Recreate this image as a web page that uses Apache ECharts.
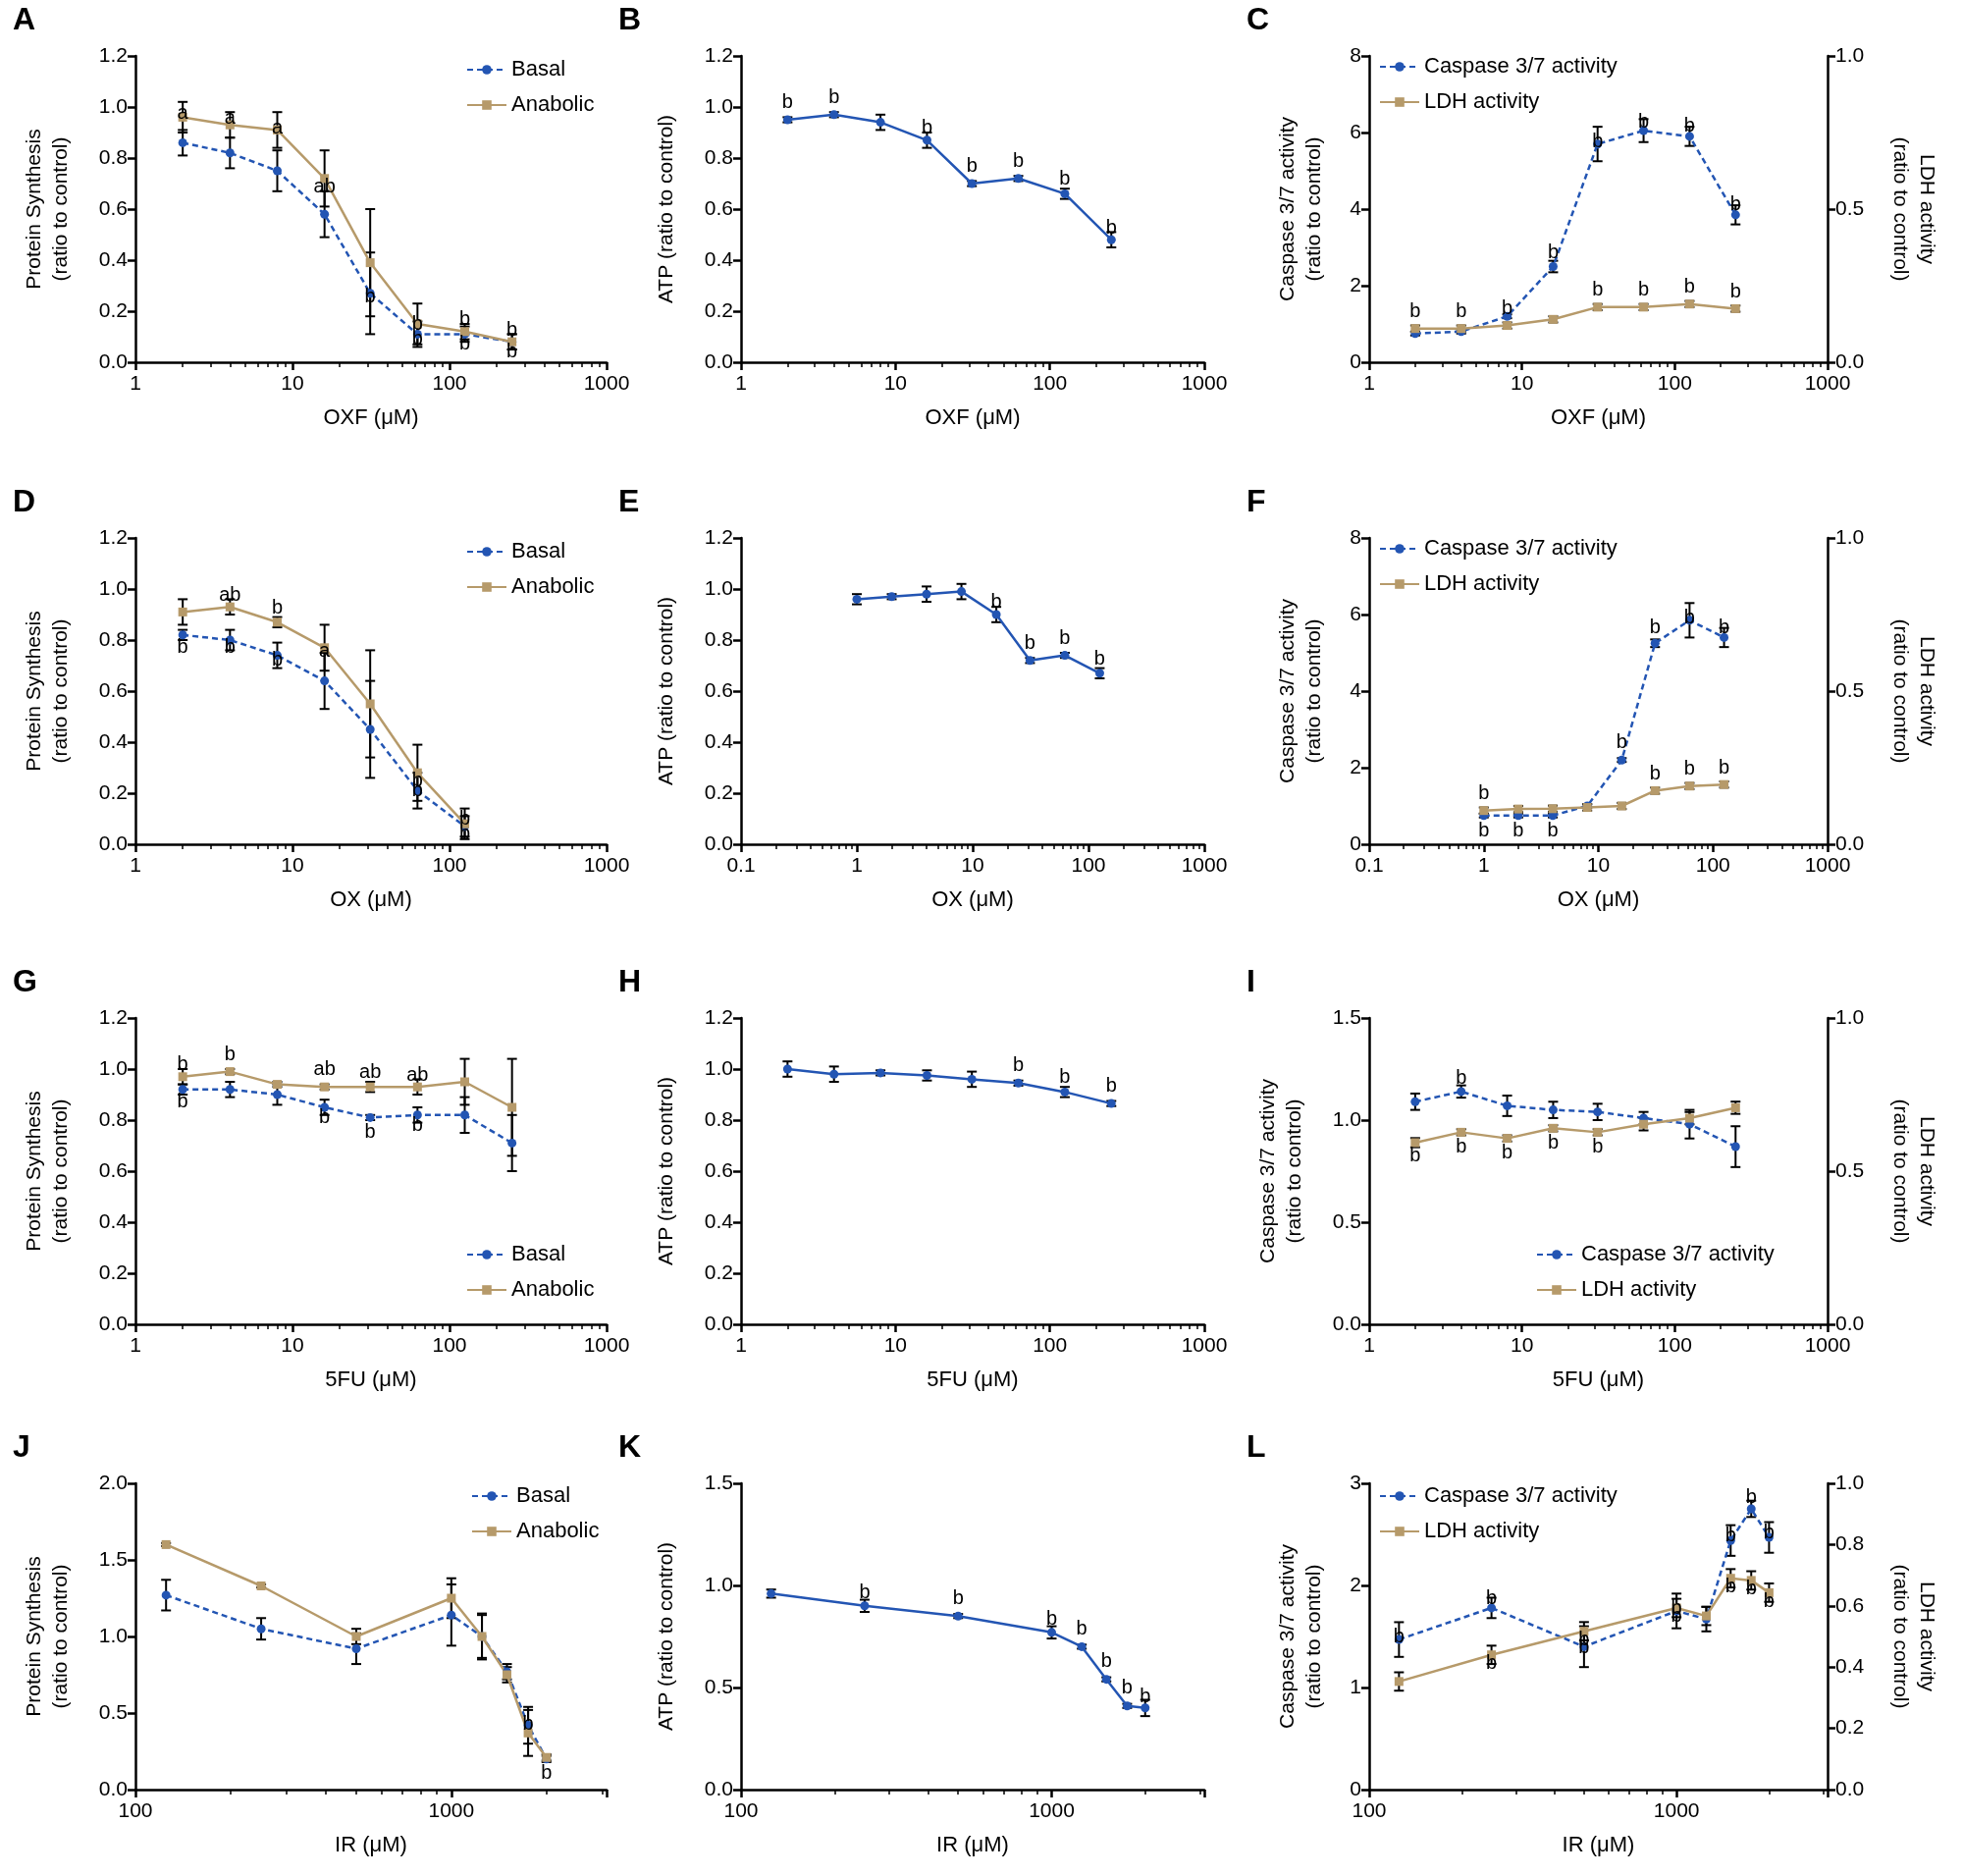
<!DOCTYPE html>
<html><head><meta charset="utf-8">
<script src="https://cdn.jsdelivr.net/npm/echarts@6/dist/echarts.min.js"></script>
<style>html,body{margin:0;background:#fff}#main{width:2000px;height:1911px}</style>
</head><body><div id="main"></div>
<script>
var BLUE = '#2355b3', TAN = '#b69a6a';
// concentrations
var xOXF = [2, 4, 8, 16, 31.25, 62.5, 125, 250];
var xOX = [2, 4, 8, 16, 31.25, 62.5, 125];
var xOX2 = [1, 2, 4, 8, 16, 31.25, 62.5, 125];
var x5FU = [2, 4, 8, 16, 31.25, 62.5, 125, 250];
var xIR = [125, 250, 500, 1000, 1250, 1500, 1750, 2000];
// A
var basalA = [0.86, 0.82, 0.75, 0.58, 0.27, 0.11, 0.11, 0.08], basalAErr = [0.05, 0.06, 0.08, 0.09, 0.16, 0.05, 0.03, 0.03];
var anabA = [0.96, 0.93, 0.91, 0.72, 0.39, 0.15, 0.12, 0.08], anabAErr = [0.06, 0.05, 0.07, 0.11, 0.21, 0.08, 0.03, 0.03];
var labAtop = ['a', 'a', 'a', 'ab', 'b', 'b', 'b', 'b'], labAbot = ['', '', '', '', '', 'b', 'b', 'b'];
// B
var atpB = [0.95, 0.97, 0.94, 0.87, 0.70, 0.72, 0.66, 0.48], atpBErr = [0.01, 0.01, 0.03, 0.03, 0.01, 0.01, 0.02, 0.03];
var labB = ['b', 'b', '', 'b', 'b', 'b', 'b', 'b'];
// C
var caspC = [0.75, 0.8, 1.2, 2.5, 5.7, 6.05, 5.9, 3.85], caspCErr = [0.05, 0.05, 0.05, 0.15, 0.45, 0.3, 0.25, 0.25];
var ldhC = [0.11, 0.11, 0.12, 0.14, 0.18, 0.18, 0.19, 0.175], ldhCErr = [0.01, 0.01, 0.01, 0.01, 0.01, 0.01, 0.01, 0.01];
var labCtop = ['', '', '', 'b', 'b', 'b', 'b', 'b'], labCldh = ['b', 'b', 'b', '', 'b', 'b', 'b', 'b'];
// D
var basalD = [0.82, 0.80, 0.74, 0.64, 0.45, 0.21, 0.07], basalDErr = [0.02, 0.04, 0.05, 0.11, 0.19, 0.07, 0.04];
var anabD = [0.91, 0.93, 0.87, 0.77, 0.55, 0.28, 0.08], anabDErr = [0.05, 0.03, 0.02, 0.09, 0.21, 0.11, 0.06];
var labDtop = ['', 'ab', 'b', 'a', '', 'b', 'b'], labDbot = ['b', 'b', 'b', '', '', 'b', 'b'];
// E
var atpE = [0.96, 0.97, 0.98, 0.99, 0.90, 0.72, 0.74, 0.67], atpEErr = [0.02, 0.01, 0.03, 0.03, 0.03, 0.01, 0.01, 0.02];
var labE = ['', '', '', '', 'b', 'b', 'b', 'b'];
// F
var caspF = [0.75, 0.75, 0.75, 1.0, 2.2, 5.25, 5.85, 5.4], caspFErr = [0.05, 0.05, 0.05, 0.05, 0.05, 0.1, 0.45, 0.25];
var ldhF = [0.11, 0.115, 0.116, 0.12, 0.125, 0.175, 0.19, 0.195], ldhFErr = [0.01, 0.01, 0.01, 0.01, 0.01, 0.01, 0.01, 0.01];
var labFtop = ['', '', '', '', 'b', 'b', 'b', 'b'], labFldh = ['b', '', '', '', '', 'b', 'b', 'b'], labFbot = ['b', 'b', 'b', '', '', '', '', ''];
// G
var basalG = [0.92, 0.92, 0.90, 0.85, 0.81, 0.82, 0.82, 0.71], basalGErr = [0.02, 0.03, 0.04, 0.03, 0.01, 0.03, 0.07, 0.11];
var anabG = [0.97, 0.99, 0.94, 0.93, 0.93, 0.93, 0.95, 0.85], anabGErr = [0.03, 0.01, 0.01, 0.01, 0.02, 0.03, 0.09, 0.19];
var labGtop = ['b', 'b', '', 'ab', 'ab', 'ab', '', ''], labGbot = ['b', '', '', 'b', 'b', 'b', '', ''];
// H
var atpH = [1.0, 0.98, 0.985, 0.975, 0.96, 0.945, 0.91, 0.865], atpHErr = [0.03, 0.03, 0.01, 0.02, 0.03, 0.01, 0.02, 0.01];
var labH = ['', '', '', '', '', 'b', 'b', 'b'];
// I
var caspI = [1.09, 1.14, 1.07, 1.05, 1.04, 1.01, 0.98, 0.87], caspIErr = [0.04, 0.03, 0.05, 0.04, 0.04, 0.03, 0.07, 0.1];
var ldhI = [0.593, 0.627, 0.607, 0.64, 0.627, 0.653, 0.673, 0.707], ldhIErr = [0.015, 0.01, 0.01, 0.01, 0.01, 0.02, 0.02, 0.02];
var labItop = ['', 'b', '', '', '', '', '', ''], labIbot = ['b', 'b', 'b', 'b', 'b', '', '', ''];
// J
var basalJ = [1.27, 1.05, 0.92, 1.14, 1.0, 0.77, 0.42, 0.2], basalJErr = [0.1, 0.07, 0.1, 0.2, 0.14, 0.05, 0.12, 0.02];
var anabJ = [1.6, 1.33, 1.0, 1.25, 1.0, 0.75, 0.37, 0.21], anabJErr = [0.01, 0.01, 0.05, 0.13, 0.15, 0.05, 0.15, 0.02];
var labJtop = ['', '', '', '', '', '', 'b', ''], labJbot = ['', '', '', '', '', '', '', 'b'];
// K
var atpK = [0.96, 0.9, 0.85, 0.77, 0.70, 0.54, 0.41, 0.40], atpKErr = [0.02, 0.03, 0.01, 0.03, 0.01, 0.01, 0.01, 0.04];
var labK = ['', 'b', 'b', 'b', 'b', 'b', 'b', 'b'];
// L
var caspL = [1.47, 1.78, 1.4, 1.75, 1.67, 2.44, 2.75, 2.47], caspLErr = [0.17, 0.1, 0.2, 0.17, 0.12, 0.15, 0.08, 0.15];
var ldhL = [0.353, 0.44, 0.517, 0.593, 0.567, 0.69, 0.683, 0.643], ldhLErr = [0.03, 0.03, 0.03, 0.03, 0.03, 0.03, 0.03, 0.03];
var labLtop = ['b', 'b', 'b', 'b', '', 'b', 'b', 'b'], labLbot = ['', 'b', 'b', 'b', '', 'b', 'b', 'b'];

var PS = 'Protein Synthesis\n(ratio to control)', ATP = 'ATP (ratio to control)',
    CAS = 'Caspase 3/7 activity\n(ratio to control)', LDH = 'LDH activity\n(ratio to control)';
var Y12 = {min: 0, max: 1.2, int: 0.2, dec: 1};
var panels = [
  {k: 'A', c: 0, r: 0, xmin: 1, xmax: 1000, xn: 'OXF (μM)', y: Object.assign({n: PS}, Y12), leg: [470, 55],
   s: [{n: 'Basal', x: xOXF, v: basalA, e: basalAErr, col: BLUE, d: 1}, {n: 'Anabolic', x: xOXF, v: anabA, e: anabAErr, col: TAN}],
   lab: [[1, labAtop, -1], [0, labAbot, 1]]},
  {k: 'B', c: 1, r: 0, xmin: 1, xmax: 1000, xn: 'OXF (μM)', y: Object.assign({n: ATP}, Y12),
   s: [{n: 'ATP', x: xOXF, v: atpB, e: atpBErr, col: BLUE}], lab: [[0, labB, -1]]},
  {k: 'C', c: 2, r: 0, xmin: 1, xmax: 1000, xn: 'OXF (μM)', y: {n: CAS, min: 0, max: 8, int: 2, dec: 0}, y2: {n: LDH, min: 0, max: 1, int: 0.5, dec: 1}, leg: [1400, 52],
   s: [{n: 'Caspase 3/7 activity', x: xOXF, v: caspC, e: caspCErr, col: BLUE, d: 1}, {n: 'LDH activity', x: xOXF, v: ldhC, e: ldhCErr, col: TAN, ax: 1}],
   lab: [[0, labCtop, -1], [1, labCldh, -1]]},
  {k: 'D', c: 0, r: 1, xmin: 1, xmax: 1000, xn: 'OX (μM)', y: Object.assign({n: PS}, Y12), leg: [470, 546],
   s: [{n: 'Basal', x: xOX, v: basalD, e: basalDErr, col: BLUE, d: 1}, {n: 'Anabolic', x: xOX, v: anabD, e: anabDErr, col: TAN}],
   lab: [[1, labDtop, -1], [0, labDbot, 1]]},
  {k: 'E', c: 1, r: 1, xmin: 0.1, xmax: 1000, xn: 'OX (μM)', y: Object.assign({n: ATP}, Y12),
   s: [{n: 'ATP', x: xOX2, v: atpE, e: atpEErr, col: BLUE}], lab: [[0, labE, -1]]},
  {k: 'F', c: 2, r: 1, xmin: 0.1, xmax: 1000, xn: 'OX (μM)', y: {n: CAS, min: 0, max: 8, int: 2, dec: 0}, y2: {n: LDH, min: 0, max: 1, int: 0.5, dec: 1}, leg: [1400, 543],
   s: [{n: 'Caspase 3/7 activity', x: xOX2, v: caspF, e: caspFErr, col: BLUE, d: 1}, {n: 'LDH activity', x: xOX2, v: ldhF, e: ldhFErr, col: TAN, ax: 1}],
   lab: [[0, labFtop, -1], [1, labFldh, -1], [0, labFbot, 1]]},
  {k: 'G', c: 0, r: 2, xmin: 1, xmax: 1000, xn: '5FU (μM)', y: Object.assign({n: PS}, Y12), leg: [470, 1262],
   s: [{n: 'Basal', x: x5FU, v: basalG, e: basalGErr, col: BLUE, d: 1}, {n: 'Anabolic', x: x5FU, v: anabG, e: anabGErr, col: TAN}],
   lab: [[1, labGtop, -1], [0, labGbot, 1]]},
  {k: 'H', c: 1, r: 2, xmin: 1, xmax: 1000, xn: '5FU (μM)', y: Object.assign({n: ATP}, Y12),
   s: [{n: 'ATP', x: x5FU, v: atpH, e: atpHErr, col: BLUE}], lab: [[0, labH, -1]]},
  {k: 'I', c: 2, r: 2, xmin: 1, xmax: 1000, xn: '5FU (μM)', y: {n: CAS, min: 0, max: 1.5, int: 0.5, dec: 1}, y2: {n: LDH, min: 0, max: 1, int: 0.5, dec: 1}, leg: [1560, 1262],
   s: [{n: 'Caspase 3/7 activity', x: x5FU, v: caspI, e: caspIErr, col: BLUE, d: 1}, {n: 'LDH activity', x: x5FU, v: ldhI, e: ldhIErr, col: TAN, ax: 1}],
   lab: [[0, labItop, -1], [1, labIbot, 1]]},
  {k: 'J', c: 0, r: 3, xmin: 100, xmax: 3100, xn: 'IR (μM)', y: {n: PS, min: 0, max: 2, int: 0.5, dec: 1}, leg: [475, 1508],
   s: [{n: 'Basal', x: xIR, v: basalJ, e: basalJErr, col: BLUE, d: 1}, {n: 'Anabolic', x: xIR, v: anabJ, e: anabJErr, col: TAN}],
   lab: [[0, labJtop, -1], [0, labJbot, 1]]},
  {k: 'K', c: 1, r: 3, xmin: 100, xmax: 3100, xn: 'IR (μM)', y: {n: ATP, min: 0, max: 1.5, int: 0.5, dec: 1},
   s: [{n: 'ATP', x: xIR, v: atpK, e: atpKErr, col: BLUE}], lab: [[0, labK, -1]]},
  {k: 'L', c: 2, r: 3, xmin: 100, xmax: 3100, xn: 'IR (μM)', y: {n: CAS, min: 0, max: 3, int: 1, dec: 0}, y2: {n: LDH, min: 0, max: 1, int: 0.2, dec: 1}, leg: [1400, 1508],
   s: [{n: 'Caspase 3/7 activity', x: xIR, v: caspL, e: caspLErr, col: BLUE, d: 1}, {n: 'LDH activity', x: xIR, v: ldhL, e: ldhLErr, col: TAN, ax: 1}],
   lab: [[0, labLtop, -1], [1, labLbot, 1]]}
];

var colL = [138, 755, 1395], colW = [480, 472, 467];
var rowT = [57, 548, 1037, 1511], rowH = 312;
var F = 'Arial, "Liberation Sans", sans-serif';
var axLine = {show: true, lineStyle: {color: '#000', width: 2.5}};
var axTick = {show: true, inside: false, length: 8, lineStyle: {color: '#000', width: 2.5}};
var grids = [], xAxes = [], yAxes = [], series = [], legends = [], graphics = [];

panels.forEach(function (p, gi) {
  grids.push({left: colL[p.c], top: rowT[p.r], width: colW[p.c], height: rowH});
  graphics.push({type: 'text', left: colL[p.c] - 125, top: rowT[p.r] - 52, style: {text: p.k, font: 'bold 32px ' + F, fill: '#000'}});
  var powMax = Math.abs(Math.log10(p.xmax) - Math.round(Math.log10(p.xmax))) < 1e-9;
  xAxes.push({type: 'log', logBase: 10, gridIndex: gi, min: p.xmin, max: p.xmax, name: p.xn, nameLocation: 'middle', nameGap: 46,
    nameTextStyle: {fontSize: 22, fontFamily: F, color: '#000'}, axisLine: axLine, axisTick: axTick,
    minorTick: {show: true, splitNumber: 9, length: 5, lineStyle: {color: '#000', width: 1.5}},
    splitLine: {show: false}, minorSplitLine: {show: false},
    axisLabel: {fontSize: 21, fontFamily: F, color: '#000', margin: 12, showMaxLabel: powMax,
      formatter: function (v) { return String(+v.toPrecision(6)); }}});
  var yi = yAxes.length;
  function mkY(y, right) {
    return {type: 'value', gridIndex: gi, min: y.min, max: y.max, interval: y.int, position: right ? 'right' : 'left',
      name: y.n, nameLocation: 'middle', nameRotate: right ? -90 : 90, nameGap: right ? 60 : (y.dec ? 62 : 42),
      nameTextStyle: {fontSize: 21, fontFamily: F, color: '#000', lineHeight: 27},
      axisLine: axLine, axisTick: axTick, splitLine: {show: false},
      axisLabel: {fontSize: 21, fontFamily: F, color: '#000', formatter: function (v) { return v.toFixed(y.dec); }}};
  }
  yAxes.push(mkY(p.y, false));
  if (p.y2) yAxes.push(mkY(p.y2, true));
  var legNames = [];
  p.s.forEach(function (s) {
    var ya = yi + (s.ax || 0);
    var pts = s.x.map(function (x, i) { return [x, s.v[i], s.e[i]]; });
    s.pts = pts; s.ya = ya;
    series.push({type: 'custom', xAxisIndex: gi, yAxisIndex: ya, data: pts, z: 3, silent: true,
      renderItem: function (params, api) {
        var x = api.value(0), y = api.value(1), e = api.value(2);
        var a = api.coord([x, y + e]), b = api.coord([x, Math.max(y - e, 0)]);
        var st = {stroke: '#000', lineWidth: 2};
        return {type: 'group', children: [
          {type: 'line', shape: {x1: a[0], y1: a[1], x2: b[0], y2: b[1]}, style: st},
          {type: 'line', shape: {x1: a[0] - 5, y1: a[1], x2: a[0] + 5, y2: a[1]}, style: st},
          {type: 'line', shape: {x1: b[0] - 5, y1: b[1], x2: b[0] + 5, y2: b[1]}, style: st}]};
      }});
    series.push({type: 'line', name: s.n, xAxisIndex: gi, yAxisIndex: ya, data: pts.map(function (q) { return [q[0], q[1]]; }), z: 4,
      symbol: s.col === BLUE ? 'circle' : 'rect', symbolSize: 9, color: s.col,
      lineStyle: {color: s.col, width: 2.5, type: s.d ? [6, 4] : 'solid'}, itemStyle: {color: s.col}});
    legNames.push(s.n);
  });
  p.lab.forEach(function (l) {
    var s = p.s[l[0]], texts = l[1], dir = l[2];
    series.push({type: 'custom', xAxisIndex: gi, yAxisIndex: s.ya, data: s.pts, z: 5, silent: true,
      renderItem: function (params, api) {
        var t = texts[params.dataIndex];
        if (!t) return null;
        var x = api.value(0), y = Math.max(api.value(1) + dir * api.value(2), 0);
        var c = api.coord([x, y]);
        return {type: 'text', x: c[0], y: c[1] + (dir < 0 ? -30 : 8),
          style: {text: t, font: '20px ' + F, fill: '#000', align: 'center', verticalAlign: 'top'}};
      }});
  });
  if (p.leg && legNames.length > 1) {
    legends.push({data: legNames, orient: 'vertical', left: p.leg[0], top: p.leg[1], itemGap: 14, itemWidth: 40, itemHeight: 12,
      textStyle: {fontSize: 22, fontFamily: F, color: '#000'}});
  }
});

var myChart = echarts.init(document.getElementById('main'));
myChart.setOption({
  animation: false, backgroundColor: '#fff',
  grid: grids, xAxis: xAxes, yAxis: yAxes, series: series, legend: legends, graphic: graphics
});
</script></body></html>
